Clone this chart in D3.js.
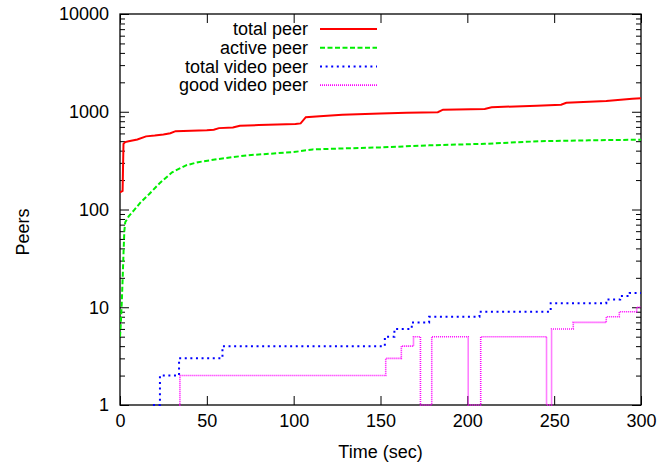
<!DOCTYPE html>
<html>
<head>
<meta charset="utf-8">
<script src="https://cdn.jsdelivr.net/npm/d3@7"></script>
<style>
  body { margin: 0; background: #fff; }
  text { font-family: "Liberation Sans", Arial, Helvetica, sans-serif; }
</style>
</head>
<body>
<script>
// series (time in sec, peers)
const totalPeerTime = [0, 1.5, 2, 3, 5, 10, 15, 20, 25, 29, 32, 50, 54, 57, 65, 69, 80, 101, 104, 107, 115, 128, 150, 165, 183, 186, 210, 214, 240, 254, 257, 280, 295, 300];
const totalPeer     = [150, 155, 470, 490, 500, 520, 560, 570, 585, 603, 633, 645, 655, 680, 690, 720, 730, 750, 760, 880, 900, 932, 962, 975, 990, 1050, 1070, 1114, 1150, 1180, 1236, 1290, 1360, 1377];

const activePeerTime = [0, 0.5, 1, 1.5, 2, 2.5, 3, 5, 8, 12, 17, 23, 30, 38, 45, 58, 73, 100, 111, 130, 150, 178, 210, 242, 270, 300];
const activePeer     = [5, 7, 11, 19, 35, 60, 74, 85, 98, 119, 145, 187, 240, 283, 305, 331, 358, 387, 412, 422, 432, 453, 470, 500, 510, 518];

const videoPeerTime = [19, 23, 34, 59, 152.5, 158, 168, 178, 207, 248, 280, 288, 293.5, 300];
const videoPeer     = [1, 2, 3, 4, 5, 6, 7, 8, 9, 11, 12, 13, 14, 14];

const goodVideoTime = [34, 34.5, 153, 162, 169, 173, 179.5, 200.5, 207.7, 245.6, 248.5, 261, 280, 287.5, 297.5, 300];
const goodVideo     = [1, 2, 3, 4, 5, 1, 5, 1, 5, 1, 6, 7, 8, 9, 10, 10];

const xTicks = [0, 50, 100, 150, 200, 250, 300];
const yTicks = [1, 10, 100, 1000, 10000];

const seriesNames = ["total peer", "active peer", "total video peer", "good video peer"];

const W = 659, H = 463;
const plotL = 120, plotR = 641, plotT = 14, plotB = 405;

const svg = d3.select("body").append("svg")
    .attr("width", W)
    .attr("height", H);

const x = d3.scaleLinear().domain([0, 300]).range([plotL, plotR]);
const y = d3.scaleLog().domain([1, 10000]).range([plotB, plotT]);

// minor ticks 2..9 in every decade
const minorY = [];
for (let d = 1; d < 10000; d *= 10) {
  for (let k = 2; k < 10; k++) minorY.push(d * k);
}

// axes, ticks pointing inward like gnuplot
svg.append("g")
    .attr("transform", `translate(${plotL},0)`)
    .call(d3.axisLeft(y).tickValues(yTicks).tickFormat(d3.format("d")).tickSize(-9).tickPadding(11))
    .call(g => g.select(".domain").remove());
svg.append("g")
    .attr("transform", `translate(${plotL},0)`)
    .call(d3.axisLeft(y).tickValues(minorY).tickFormat("").tickSize(-5))
    .call(g => g.select(".domain").remove());
svg.append("g")
    .attr("transform", `translate(${plotR},0)`)
    .call(d3.axisRight(y).tickValues(yTicks).tickFormat("").tickSize(-9))
    .call(g => g.select(".domain").remove());
svg.append("g")
    .attr("transform", `translate(${plotR},0)`)
    .call(d3.axisRight(y).tickValues(minorY).tickFormat("").tickSize(-5))
    .call(g => g.select(".domain").remove());
svg.append("g")
    .attr("transform", `translate(0,${plotB})`)
    .call(d3.axisBottom(x).tickValues(xTicks).tickSize(-9).tickPadding(9))
    .call(g => g.select(".domain").remove());
svg.append("g")
    .attr("transform", `translate(0,${plotT})`)
    .call(d3.axisTop(x).tickValues(xTicks).tickFormat("").tickSize(-9))
    .call(g => g.select(".domain").remove());

svg.selectAll(".tick line").attr("stroke", "#000");
svg.selectAll(".tick text")
    .style("font-size", "18px")
    .attr("fill", "#000");

svg.append("rect")
    .attr("x", plotL)
    .attr("y", plotT)
    .attr("width", plotR - plotL)
    .attr("height", plotB - plotT)
    .attr("fill", "none")
    .attr("stroke", "#000")
    .attr("stroke-width", 1.3);

svg.append("defs").append("clipPath").attr("id", "plot")
  .append("rect")
    .attr("x", plotL).attr("y", plotT - 2)
    .attr("width", plotR - plotL).attr("height", plotB - plotT + 4);

const series = [
  { name: seriesNames[0], t: totalPeerTime, v: totalPeer, color: "#ff0000", dash: null, w: 2, curve: d3.curveLinear },
  { name: seriesNames[1], t: activePeerTime, v: activePeer, color: "#00ee00", dash: "5,2.5", w: 2, curve: d3.curveLinear },
  { name: seriesNames[2], t: videoPeerTime, v: videoPeer, color: "#0000ff", dash: "2,3.6", w: 2, curve: d3.curveStepAfter },
  { name: seriesNames[3], t: goodVideoTime, v: goodVideo, color: "#ff00ff", dash: "1,1", w: 1.6, curve: d3.curveStepAfter }
];

const plot = svg.append("g").attr("clip-path", "url(#plot)");

series.forEach(s => {
  const pts = s.t.map((t, i) => [t, s.v[i]]);
  const line = d3.line()
      .x(d => x(d[0]))
      .y(d => y(d[1]))
      .curve(s.curve);
  plot.append("path")
      .datum(pts)
      .attr("d", line)
      .attr("fill", "none")
      .attr("stroke", s.color)
      .attr("stroke-width", s.w)
      .attr("stroke-dasharray", s.dash);
});

// legend, top left inside the frame
const legend = svg.append("g");
series.forEach((s, i) => {
  const ly = 29 + i * 18.7;
  legend.append("text")
      .attr("x", 308)
      .attr("y", ly)
      .attr("dy", "0.35em")
      .attr("text-anchor", "end")
      .style("font-size", "18px")
      .text(s.name);
  legend.append("line")
      .attr("x1", 320)
      .attr("x2", 377)
      .attr("y1", ly)
      .attr("y2", ly)
      .attr("stroke", s.color)
      .attr("stroke-width", s.w)
      .attr("stroke-dasharray", s.dash);
});

// axis titles
svg.append("text")
    .attr("x", (plotL + plotR) / 2)
    .attr("y", 452)
    .attr("dy", "0.35em")
    .attr("text-anchor", "middle")
    .style("font-size", "18px")
    .text("Time (sec)");

svg.append("text")
    .attr("transform", "translate(23,232) rotate(-90)")
    .attr("dy", "0.35em")
    .attr("text-anchor", "middle")
    .style("font-size", "18px")
    .text("Peers");
</script>
</body>
</html>
